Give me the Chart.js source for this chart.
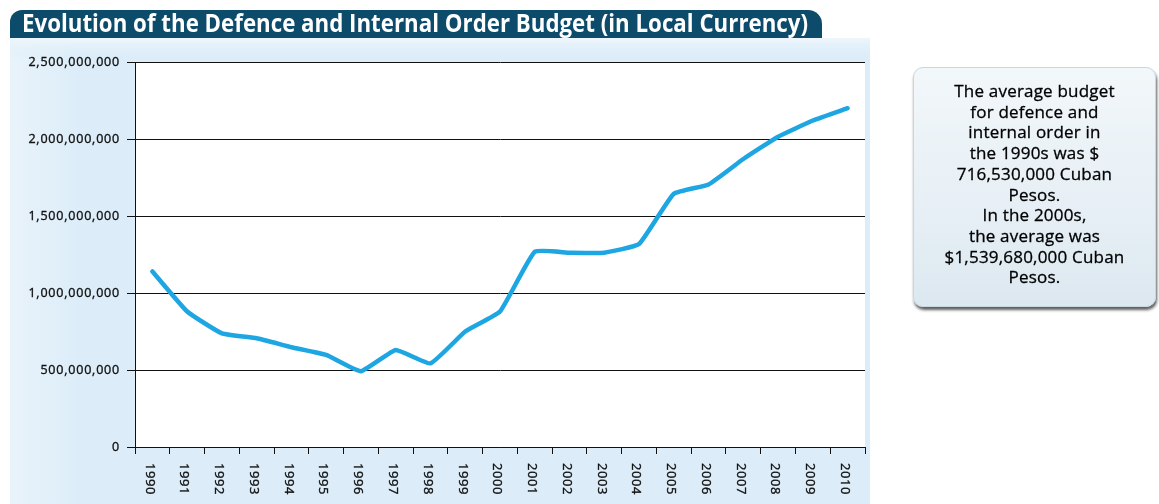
<!DOCTYPE html>
<html>
<head>
<meta charset="utf-8">
<script src="https://cdn.jsdelivr.net/npm/chart.js@4.4.1/dist/chart.umd.min.js"></script>
<style>
  html, body { margin: 0; padding: 0; background: #ffffff; }
  body { width: 1159px; height: 504px; position: relative; overflow: hidden; }
  #chart { position: absolute; left: 0; top: 0; }
  #note {
    position: absolute; left: 913px; top: 67px; width: 243px; height: 240px;
    box-sizing: border-box; border-radius: 10px;
    background: linear-gradient(180deg, #f2f7fa 0%, #e6eff5 60%, #dce8f0 100%);
    border: 1px solid #c9d6de;
    box-shadow: 1px 3px 3px rgba(40,40,40,0.75);
    font-family: "Open Sans", sans-serif; font-size: 17px; line-height: 20.7px;
    color: #000; text-align: center; letter-spacing: 0.2px;
    -webkit-text-stroke: 0.3px #000;
    padding-top: 13px;
  }
</style>
</head>
<body>
<canvas id="chart" width="1159" height="504"></canvas>
<div id="note">The average budget<br>for defence and<br>internal order in<br>the 1990s was $<br>716,530,000 Cuban<br>Pesos.<br>In the 2000s,<br>the average was<br>$1,539,680,000 Cuban<br>Pesos.</div>
<script>
const chartTitle = 'Evolution of the Defence and Internal Order Budget (in Local Currency)';
const years = ['1990','1991','1992','1993','1994','1995','1996','1997','1998','1999','2000',
               '2001','2002','2003','2004','2005','2006','2007','2008','2009','2010'];
const budget = [1140000000, 880000000, 738000000, 706000000, 648000000, 598000000, 492000000,
                630000000, 543000000, 750000000, 880000000, 1268000000, 1262000000, 1262000000,
                1318000000, 1645000000, 1705000000, 1870000000, 2015000000, 2120000000, 2200000000];
const yMin = 0, yMax = 2500000000, yStep = 500000000;

const fmt = v => Math.round(v).toLocaleString('en-US');

const decor = {
  id: 'decor',
  beforeDraw(chart) {
    const ctx = chart.ctx, ca = chart.chartArea;
    ctx.save();
    const g = ctx.createLinearGradient(8, 0, 80, 0);
    g.addColorStop(0, '#e9f3fa');
    g.addColorStop(1, '#dcedf9');
    ctx.fillStyle = g;
    ctx.fillRect(10, 38, 860, 466);
    const g2 = ctx.createLinearGradient(0, 38, 0, 60);
    g2.addColorStop(0, '#eef6fb');
    g2.addColorStop(1, 'rgba(220,237,249,0)');
    ctx.fillStyle = g2;
    ctx.fillRect(10, 38, 860, 22);
    ctx.fillStyle = '#ffffff';
    ctx.fillRect(ca.left, ca.top, ca.right - ca.left, ca.bottom - ca.top);
    // title bar
    ctx.fillStyle = '#0d4b6b';
    ctx.beginPath();
    ctx.roundRect(10, 10, 812, 28, [12, 14, 0, 0]);
    ctx.fill();
    ctx.fillStyle = '#ffffff';
    ctx.font = 'bold 22px "Open Sans"';
    ctx.textBaseline = 'alphabetic';
    ctx.textAlign = 'left';
    const w = ctx.measureText(chartTitle).width;
    ctx.translate(22, 31.5);
    ctx.scale(786 / w, 1.1);
    ctx.fillText(chartTitle, 0, 0);
    ctx.restore();
  },
  afterDraw(chart) {
    const ctx = chart.ctx;
    const xs = chart.scales.x, ys = chart.scales.y;
    ctx.save();
    ctx.fillStyle = '#111111';
    ctx.strokeStyle = '#111111';
    ctx.lineWidth = 0.35;
    ctx.font = '12.5px "Open Sans"';
    ctx.letterSpacing = '0.8px';
    ctx.textAlign = 'right';
    ctx.textBaseline = 'middle';
    ys.ticks.forEach(t => {
      const py = ys.getPixelForValue(t.value);
      ctx.fillText(fmt(t.value), 120, py);
      ctx.strokeText(fmt(t.value), 120, py);
    });
    ctx.font = '13px "Open Sans"';
    ctx.letterSpacing = '0.6px';
    ctx.textAlign = 'left';
    ctx.textBaseline = 'middle';
    years.forEach((lab, i) => {
      const px = xs.getPixelForValue(i) - 3;
      ctx.save();
      ctx.translate(px, 463);
      ctx.rotate(Math.PI / 2);
      ctx.fillText(lab, 0, 0);
      ctx.strokeText(lab, 0, 0);
      ctx.restore();
    });
    ctx.restore();
  }
};

new Chart(document.getElementById('chart'), {
  type: 'line',
  data: {
    labels: years,
    datasets: [{
      data: budget,
      borderColor: '#1ea6e2',
      borderWidth: 4.5,
      tension: 0.12,
      pointRadius: 0,
      borderJoinStyle: 'round',
      borderCapStyle: 'round',
      fill: false
    }]
  },
  options: {
    responsive: false,
    devicePixelRatio: 1,
    animation: false,
    layout: { padding: { left: 0, top: 62, right: 294, bottom: 0 } },
    plugins: { legend: { display: false }, tooltip: { enabled: false }, title: { display: false } },
    scales: {
      x: {
        offset: true,
        grid: { offset: true, drawOnChartArea: false, drawTicks: true, tickLength: 7, color: '#111', lineWidth: 1 },
        border: { display: true, color: '#111', width: 1 },
        ticks: { color: 'rgba(0,0,0,0)', autoSkip: false, maxRotation: 0, minRotation: 0, font: { size: 10 } },
        afterFit(s) { s.height = 57; }
      },
      y: {
        min: yMin, max: yMax,
        grid: { color: '#111', lineWidth: 1, drawTicks: true, tickLength: 8 },
        border: { display: true, color: '#111', width: 1 },
        ticks: { stepSize: yStep, color: 'rgba(0,0,0,0)', callback: v => fmt(v) },
        afterFit(s) { s.width = 135; }
      }
    }
  },
  plugins: [decor]
});
</script>
</body>
</html>
